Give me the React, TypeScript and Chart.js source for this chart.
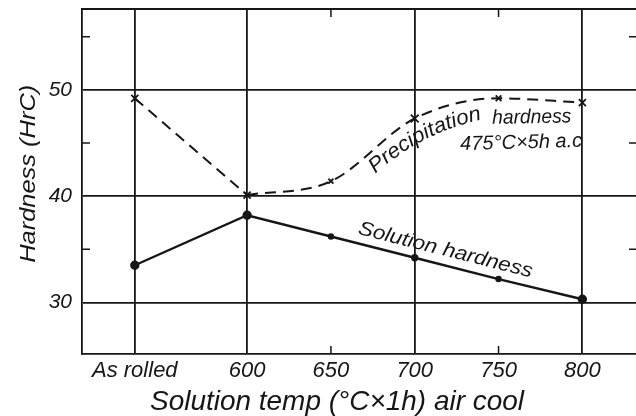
import React, { useEffect, useRef } from "react";
import { Chart, registerables } from "chart.js";

Chart.register(...registerables);

// ---- data ----
const categories = ["As rolled", "600", "650", "700", "750", "800"];
const tempPositions = [533, 600, 650, 700, 750, 800];
const solutionHardness = [33.5, 38.2, 36.2, 34.2, 32.2, 30.3];
const precipitationHardness = [49.2, 40.1, 41.4, 47.3, 49.2, 48.8];
const yTickValues = [30, 40, 50];
const yMinorTicks = [35, 45, 55];
const xMinorTicks = [650, 750];
const xRange = [501.5, 832];
const yRange = [25.15, 57.6];

const INK = "#161616";
const FONT = '"Liberation Sans", Arial, sans-serif';

function fitText(
  ctx: CanvasRenderingContext2D,
  text: string,
  x: number,
  y: number,
  size: number,
  targetW: number | null,
  angle: number,
  align: "left" | "center" = "left"
) {
  ctx.save();
  ctx.translate(x, y);
  ctx.rotate(angle);
  ctx.font = `italic ${size}px ${FONT}`;
  ctx.textBaseline = "alphabetic";
  ctx.textAlign = "left";
  const w = ctx.measureText(text).width;
  const sx = targetW ? targetW / w : 1;
  ctx.scale(sx, 1);
  ctx.fillText(text, align === "center" ? -w / 2 : 0, 0);
  ctx.restore();
}

const decor = {
  id: "decor",
  afterDraw(chart: any) {
    const { ctx, chartArea: a, scales } = chart;
    const x = scales.x;
    const y = scales.y;
    ctx.save();
    ctx.strokeStyle = INK;
    ctx.lineWidth = 1.8;
    ctx.beginPath();
    ctx.moveTo(a.left, a.top);
    ctx.lineTo(a.right, a.top);
    ctx.stroke();

    ctx.lineWidth = 1.5;
    ctx.beginPath();
    yMinorTicks.forEach((v) => {
      const py = y.getPixelForValue(v);
      ctx.moveTo(a.left, py);
      ctx.lineTo(a.left + 8, py);
      ctx.moveTo(a.right - 7, py);
      ctx.lineTo(a.right, py);
    });
    xMinorTicks.forEach((v) => {
      const px = x.getPixelForValue(v);
      ctx.moveTo(px, a.top);
      ctx.lineTo(px, a.top + 8);
      ctx.moveTo(px, a.bottom);
      ctx.lineTo(px, a.bottom - 8);
    });
    ctx.stroke();

    ctx.fillStyle = INK;

    // axis titles
    fitText(ctx, "Solution temp (°C×1h) air cool", 337, a.bottom + 56, 28, 374, 0, "center");
    fitText(ctx, "Hardness (HrC)", 35, y.getPixelForValue(42.1), 22, 178, -Math.PI / 2, "center");

    // Solution hardness label along its line
    const sAng = Math.atan2(
      y.getPixelForValue(solutionHardness[5]) - y.getPixelForValue(solutionHardness[1]),
      x.getPixelForValue(tempPositions[5]) - x.getPixelForValue(tempPositions[1])
    );
    fitText(ctx, "Solution hardness", x.getPixelForValue(665.7), y.getPixelForValue(36.45), 20, 179, sAng);

    // Precipitation (curved)
    {
      const word = "Precipitation";
      ctx.font = `italic 21px ${FONT}`;
      const total = ctx.measureText(word).width;
      const k = 121 / total;
      let px = x.getPixelForValue(676.4);
      let py = y.getPixelForValue(42.1);
      let acc = 0;
      for (const ch of word) {
        const w = ctx.measureText(ch).width;
        const t = (acc + w / 2) / total;
        const ang = ((-42 + 30 * t) * Math.PI) / 180;
        ctx.save();
        ctx.translate(px, py);
        ctx.rotate(ang);
        ctx.scale(k, 1);
        ctx.textAlign = "left";
        ctx.textBaseline = "alphabetic";
        ctx.fillText(ch, 0, 0);
        ctx.restore();
        px += w * k * Math.cos(ang);
        py += w * k * Math.sin(ang);
        acc += w;
      }
    }
    fitText(ctx, "hardness", x.getPixelForValue(746.3), y.getPixelForValue(46.8), 20, 79, (-1 * Math.PI) / 180);
    fitText(ctx, "475°C×5h a.c", x.getPixelForValue(727.2), y.getPixelForValue(44.34), 20, 122, (-1.5 * Math.PI) / 180);

    ctx.restore();
  },
};

export default function App() {
  const ref = useRef<HTMLCanvasElement | null>(null);

  useEffect(() => {
    if (!ref.current) return;
    const solPts = tempPositions.map((t, i) => ({ x: t, y: solutionHardness[i] }));
    const prePts = tempPositions.map((t, i) => ({ x: t, y: precipitationHardness[i] }));

    const chart = new Chart(ref.current, {
      type: "line",
      data: {
        datasets: [
          {
            label: "Solution hardness",
            data: solPts,
            borderColor: INK,
            backgroundColor: INK,
            borderWidth: 2.4,
            tension: 0,
            pointStyle: "circle",
            pointRadius: [3.5, 3.5, 2, 2.5, 2, 3.5],
            pointBackgroundColor: INK,
            pointBorderColor: INK,
          },
          {
            label: "Precipitation hardness (straight part)",
            data: prePts.slice(0, 2),
            borderColor: INK,
            borderWidth: 2,
            borderDash: [11, 7],
            tension: 0,
            pointStyle: "crossRot",
            pointRadius: [5, 0],
            pointBorderWidth: 1.8,
            pointBorderColor: INK,
          },
          {
            label: "Precipitation hardness",
            data: prePts.slice(1),
            borderColor: INK,
            borderWidth: 2,
            borderDash: [11, 7],
            cubicInterpolationMode: "monotone",
            pointStyle: "crossRot",
            pointRadius: [5, 3.5, 5.5, 4, 5],
            pointBorderWidth: 1.8,
            pointBorderColor: INK,
          },
        ],
      },
      options: {
        responsive: false,
        animation: false,
        layout: { autoPadding: false, padding: { top: 9, right: 0, left: 0, bottom: 0 } },
        plugins: { legend: { display: false }, tooltip: { enabled: false } },
        scales: {
          x: {
            type: "linear",
            min: xRange[0],
            max: xRange[1],
            afterBuildTicks: (scale: any) => {
              scale.ticks = tempPositions.map((v) => ({ value: v }));
            },
            afterFit: (scale: any) => {
              scale.height = 62;
              scale.paddingLeft = 0;
              scale.paddingRight = 0;
            },
            ticks: {
              autoSkip: false,
              maxRotation: 0,
              padding: 4,
              color: INK,
              font: { family: FONT, size: 22, style: "italic" },
              callback: (v: any) => {
                const i = tempPositions.indexOf(Number(v));
                return i >= 0 ? categories[i] : "";
              },
            },
            grid: {
              drawTicks: false,
              lineWidth: 1.8,
              color: (c: any) =>
                c.tick && xMinorTicks.includes(c.tick.value) ? "rgba(0,0,0,0)" : INK,
            },
            border: { display: true, color: INK, width: 1.8 },
          },
          y: {
            type: "linear",
            min: yRange[0],
            max: yRange[1],
            afterBuildTicks: (scale: any) => {
              scale.ticks = yTickValues.map((v) => ({ value: v }));
            },
            afterFit: (scale: any) => {
              scale.width = 82;
              scale.paddingTop = 0;
              scale.paddingBottom = 0;
            },
            ticks: {
              padding: 10,
              color: INK,
              font: { family: FONT, size: 21, style: "italic" },
              callback: (v: any) => String(v),
            },
            grid: { drawTicks: false, lineWidth: 1.8, color: INK },
            border: { display: true, color: INK, width: 1.8 },
          },
        },
      },
      plugins: [decor],
    });
    return () => chart.destroy();
  }, []);

  return (
    <div style={{ position: "absolute", left: 0, top: 0, width: 636, height: 416, background: "#fff" }}>
      <canvas ref={ref} width={636} height={416} style={{ display: "block" }} />
    </div>
  );
}
